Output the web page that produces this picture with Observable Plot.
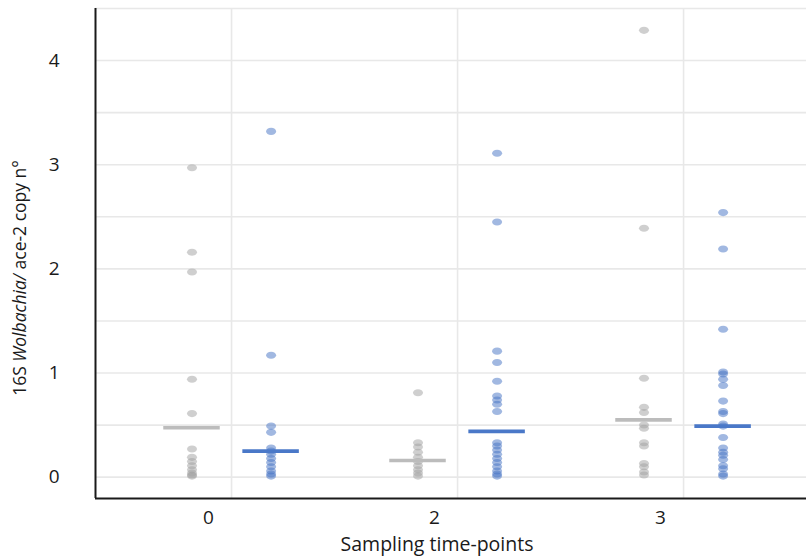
<!DOCTYPE html>
<html>
<head>
<meta charset="utf-8">
<script src="https://cdn.jsdelivr.net/npm/d3@7"></script>
<script src="https://cdn.jsdelivr.net/npm/@observablehq/plot@0.6"></script>
<style>
  html, body { margin: 0; padding: 0; background: #fff; }
  #chart svg { display: block; }
</style>
</head>
<body>
<div id="chart"></div>
<script>
// ---- Data ----
const timepoints = ["0", "2", "3"];
const yTicks = [0, 1, 2, 3, 4];
const gridTicks = [0, 0.5, 1, 1.5, 2, 2.5, 3, 3.5, 4, 4.5];

// grey series (left of each time-point)
const greyT0 = [2.97, 2.16, 1.97, 0.94, 0.61, 0.27, 0.19, 0.15, 0.11, 0.07, 0.04, 0.02, 0.01];
const greyT2 = [0.81, 0.33, 0.29, 0.24, 0.19, 0.15, 0.11, 0.07, 0.04, 0.01];
const greyT3 = [4.29, 2.39, 0.95, 0.67, 0.62, 0.50, 0.47, 0.33, 0.30, 0.13, 0.10, 0.05, 0.02];
// blue series (right of each time-point)
const blueT0 = [3.32, 1.17, 0.49, 0.43, 0.28, 0.25, 0.22, 0.18, 0.14, 0.10, 0.06, 0.03, 0.01];
const blueT2 = [3.11, 2.45, 1.21, 1.10, 0.92, 0.78, 0.74, 0.70, 0.63, 0.33, 0.30, 0.26, 0.22, 0.18, 0.14, 0.10, 0.06, 0.03, 0.01];
const blueT3 = [2.54, 2.19, 1.42, 1.01, 0.99, 0.94, 0.88, 0.73, 0.63, 0.61, 0.51, 0.49, 0.38, 0.28, 0.24, 0.21, 0.17, 0.11, 0.08, 0.03, 0.01];

// summary bars (means)
const greyMeans = [0.475, 0.16, 0.55];
const blueMeans = [0.25, 0.44, 0.49];

// ---- Build tables ----
const greyValues = [greyT0, greyT2, greyT3];
const blueValues = [blueT0, blueT2, blueT3];
const seriesOffset = {grey: -0.175, blue: 0.175};
const points = [];
timepoints.forEach((t, i) => {
  greyValues[i].forEach(v => points.push({i, series: "grey", value: v}));
  blueValues[i].forEach(v => points.push({i, series: "blue", value: v}));
});
const means = [];
timepoints.forEach((t, i) => {
  means.push({i, series: "grey", value: greyMeans[i]});
  means.push({i, series: "blue", value: blueMeans[i]});
});

const fillColor = {grey: "#a0a0a0", blue: "#4472c4"};
const meanColor = {grey: "#bcbcbc", blue: "#4a78c8"};

const ellipse = {
  draw(ctx, size) {
    const r = Math.sqrt(size / Math.PI);
    const rx = r * 1.17, ry = r * 0.82, k = 0.5523;
    ctx.moveTo(rx, 0);
    ctx.bezierCurveTo(rx, ry * k, rx * k, ry, 0, ry);
    ctx.bezierCurveTo(-rx * k, ry, -rx, ry * k, -rx, 0);
    ctx.bezierCurveTo(-rx, -ry * k, -rx * k, -ry, 0, -ry);
    ctx.bezierCurveTo(rx * k, -ry, rx, -ry * k, rx, 0);
    ctx.closePath();
  }
};

const xDomain = [-0.602, 2.544];
const yDomain = [-0.205, 4.5];
const font = "'Open Sans', sans-serif";

const chart = Plot.plot({
  width: 806,
  height: 560,
  marginLeft: 95,
  marginRight: 0,
  marginTop: 8,
  marginBottom: 62,
  style: {fontFamily: font, fontSize: "19px", color: "#1a1a1a", background: "#fff"},
  x: {type: "linear", domain: xDomain, axis: null},
  y: {domain: yDomain, axis: null},
  marks: [
    Plot.gridY(gridTicks, {stroke: "#e8e8e8", strokeOpacity: 1, strokeWidth: 1.6}),
    Plot.gridX([0, 1, 2], {stroke: "#e8e8e8", strokeOpacity: 1, strokeWidth: 1.6}),
    Plot.ruleX([xDomain[0]], {stroke: "#1a1a1a", strokeWidth: 2}),
    Plot.ruleY([yDomain[0]], {stroke: "#1a1a1a", strokeWidth: 2}),
    Plot.axisY(yTicks, {tickSize: 0, tickPadding: 36, fontSize: 19, label: null, fill: "#1a1a1a",
      tickFormat: d => String(d)}),
    Plot.axisX([0, 1, 2], {tickSize: 0, tickPadding: 12, dx: -23, fontSize: 19, label: null,
      tickFormat: i => timepoints[i], fill: "#1a1a1a"}),
    Plot.dot(points, {
      x: d => d.i + seriesOffset[d.series],
      y: "value",
      r: 4.3,
      symbol: ellipse,
      fill: d => fillColor[d.series],
      fillOpacity: 0.5,
      stroke: "none"
    }),
    Plot.ruleY(means, {
      y: "value",
      x1: d => d.i + seriesOffset[d.series] - 0.125,
      x2: d => d.i + seriesOffset[d.series] + 0.125,
      stroke: d => meanColor[d.series],
      strokeWidth: 3.6
    }),
    Plot.text(["Sampling time-points"], {frameAnchor: "bottom", dy: 52, dx: -14, fontSize: 19.5, fill: "#1a1a1a"})
  ]
});

// y-axis title with mixed italic
const svg = d3.select(chart);
const yt = svg.append("text")
  .attr("transform", "translate(21,278) rotate(-90)")
  .attr("text-anchor", "middle")
  .attr("dominant-baseline", "middle")
  .attr("font-size", 17.5)
  .attr("fill", "#1a1a1a")
  .attr("font-family", font);
yt.append("tspan").text("16S ");
yt.append("tspan").attr("font-style", "italic").text("Wolbachia/");
yt.append("tspan").text(" ace-2 copy n°");

document.getElementById("chart").appendChild(chart);
</script>
</body>
</html>
